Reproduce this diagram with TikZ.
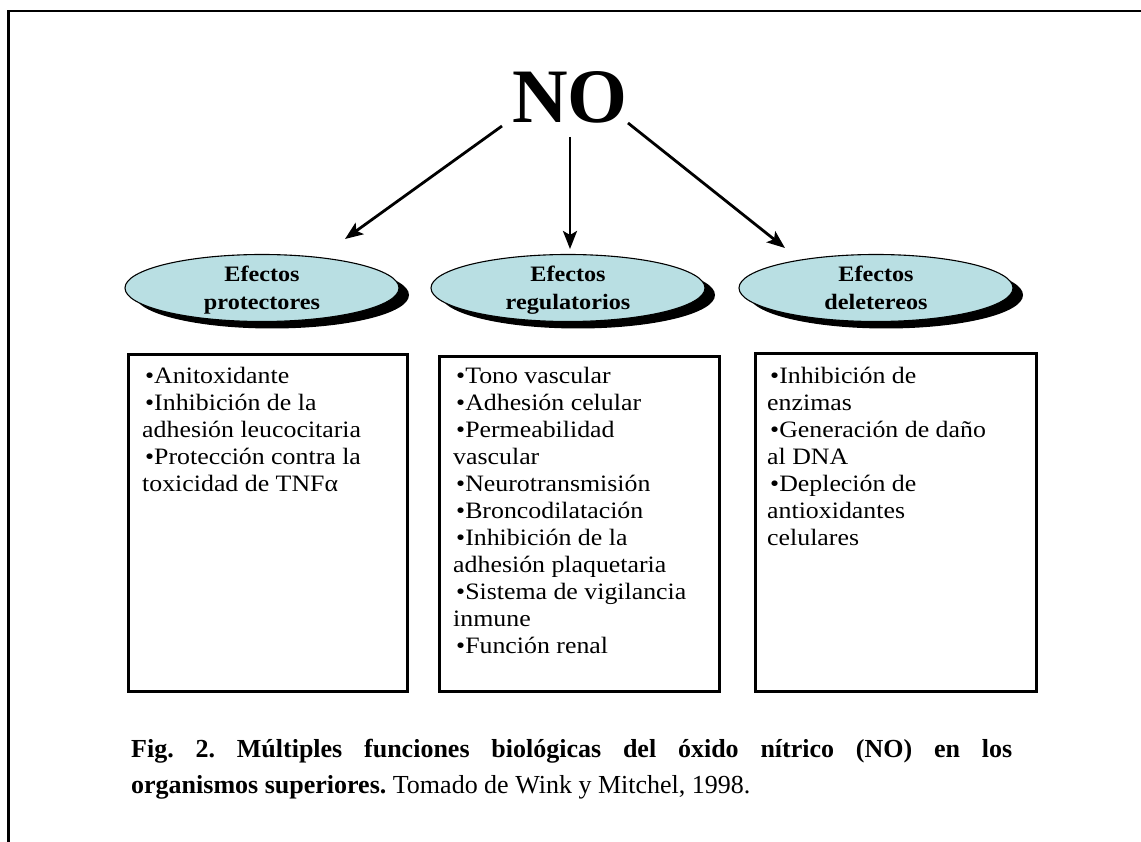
\documentclass[tikz,border=0pt]{standalone}
\usepackage{fontspec}
\setmainfont{Liberation Serif}
\newfontfamily\palfont[FakeStretch=1.1]{Liberation Serif}
\usetikzlibrary{arrows.meta,shapes.geometric,shadows}
\definecolor{ellfill}{RGB}{185,223,227}
\tikzset{
  frameline/.style={line width=2.5pt, line cap=rect},
  arr/.style={line width=2.8pt, -{Stealth[length=18pt,width=14pt,inset=4pt]}},
  ell/.style={ellipse, draw=black, line width=1.1pt, fill=ellfill, minimum width=274pt, minimum height=67pt, inner sep=0pt,
    drop shadow={shadow xshift=10pt, shadow yshift=-7pt, fill=black, opacity=1}},
  elltext/.style={anchor=base, inner sep=0pt},
  listbox/.style={rectangle, draw=black, line width=3pt, anchor=north west, inner sep=0pt},
  listtext/.style={anchor=base west, inner sep=0pt},
  captxt/.style={anchor=base west, inner sep=0pt, font=\fontsize{26}{35}\selectfont\frenchspacing}
}
\newcommand{\boxfont}{\palfont\fontsize{23.5}{27}\selectfont}
\newcommand{\ellfont}{\palfont\bfseries\fontsize{22}{28}\selectfont}
\begin{document}
\begin{tikzpicture}[x=1pt,y=-1pt]
\useasboundingbox (0,0) rectangle (1141,842);
% outer frame
\draw[frameline] (8.5,842) -- (8.5,11) -- (1141,11);
% title
\node[anchor=base, inner sep=0pt, font=\bfseries\fontsize{77}{77}\selectfont] (no) at (570,123) {NO};
% ellipses
\node[ell] (e1) at (262,288) {};
\node[ell] (e2) at (568,288) {};
\node[ell] (e3) at (876,288) {};
\node[elltext] (l1) at (e1.center) [yshift=6pt] {\parbox[t]{240pt}{\centering\ellfont Efectos\\protectores}};
\node[elltext] (l2) at (e2.center) [yshift=6pt] {\parbox[t]{240pt}{\centering\ellfont Efectos\\regulatorios}};
\node[elltext] (l3) at (e3.center) [yshift=6pt] {\parbox[t]{240pt}{\centering\ellfont Efectos\\deletereos}};
% arrows
\coordinate (a1s) at (502,126); \coordinate (a1e) at (345,239);
\coordinate (a2s) at (570,137); \coordinate (a2e) at (570,249);
\coordinate (a3s) at (628,123); \coordinate (a3e) at (785,248);
\draw[arr] (a1s) -- (a1e);
\draw[arr] (a2s) -- (a2e);
\draw[arr] (a3s) -- (a3e);
% boxes
\node[listbox, minimum width=279pt, minimum height=337pt] (b1) at (127,353) {};
\node[listbox, minimum width=280pt, minimum height=335pt] (b2) at (438,355) {};
\node[listbox, minimum width=281pt, minimum height=338pt] (b3) at (754,352) {};
\node[listtext] (t1) at (142,384) {\parbox[t]{262pt}{\boxfont\raggedright
 \hspace*{3pt}•Anitoxidante\\
 \hspace*{3pt}•Inhibición de la\\
 adhesión leucocitaria\\
 \hspace*{3pt}•Protección contra la\\
 toxicidad de TNFα}};
\node[listtext] (t2) at (453,384) {\parbox[t]{262pt}{\boxfont\raggedright
 \hspace*{3pt}•Tono vascular\\
 \hspace*{3pt}•Adhesión celular\\
 \hspace*{3pt}•Permeabilidad\\
 vascular\\
 \hspace*{3pt}•Neurotransmisión\\
 \hspace*{3pt}•Broncodilatación\\
 \hspace*{3pt}•Inhibición de la\\
 adhesión plaquetaria\\
 \hspace*{3pt}•Sistema de vigilancia\\
 inmune\\
 \hspace*{3pt}•Función renal}};
\node[listtext] (t3) at (767,384) {\parbox[t]{262pt}{\boxfont\raggedright
 \hspace*{3pt}•Inhibición de\\
 enzimas\\
 \hspace*{3pt}•Generación de daño\\
 al DNA\\
 \hspace*{3pt}•Depleción de\\
 antioxidantes\\
 celulares}};
% caption
\node[captxt] (c1) at (131,757) {\makebox[881pt][s]{\bfseries Fig. 2. Múltiples funciones biológicas del óxido nítrico (NO) en los}};
\node[captxt] (c2) at (131,793) {\textbf{organismos superiores.} Tomado de Wink y Mitchel, 1998.};
\end{tikzpicture}
\end{document}
